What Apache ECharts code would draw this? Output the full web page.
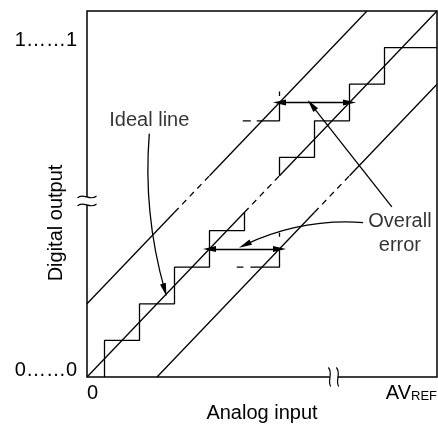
<!DOCTYPE html>
<html>
<head>
<meta charset="utf-8">
<script src="https://cdn.jsdelivr.net/npm/echarts@6/dist/echarts.min.js"></script>
<style>
html, body { margin: 0; padding: 0; background: #fff; }
#chart { width: 438px; height: 424px; }
</style>
</head>
<body>
<div id="chart"></div>
<script>
// both axes in LSB steps, 0..10 across the frame
const xTicks = [0, 10]
const xTickLabels = ['0', '{a|AV}{b|REF}']
const yTicks = [0, 9]
const yTickLabels = ['0……0', '1……1']

// ideal line and the two error bounds (solid / dashed / solid around the break)
const idealLow = [[0, 0], [4.5, 4.5]]
const idealGap = [[4.5, 4.5], [5.5, 5.5]]
const idealHigh = [[5.5, 5.5], [10, 10]]
const upperLow = [[0, 2], [2.5, 4.5]]
const upperGap = [[2.5, 4.5], [3.5, 5.5]]
const upperHigh = [[3.5, 5.5], [8, 10]]
const lowerLow = [[2, 0], [6.5, 4.5]]
const lowerGap = [[6.5, 4.5], [7.5, 5.5]]
const lowerHigh = [[7.5, 5.5], [10, 8]]

// actual conversion staircase
const stairsLow = [[0.5, 0], [0.5, 1], [1.5, 1], [1.5, 2], [2.5, 2], [2.5, 3], [3.5, 3], [3.5, 4], [4.5, 4], [4.5, 4.5]]
const stairsHigh = [[5.5, 5.5], [5.5, 6], [6.5, 6], [6.5, 7], [7.5, 7], [7.5, 8], [8.5, 8], [8.5, 9], [10, 9]]

// steps shifted by the overall error
const shiftLow = [[4.67, 3], [5.5, 3], [5.5, 3.5]]
const shiftLowDash = [[4.28, 3], [4.47, 3]]
const shiftLowTick = [[5.5, 3.83], [5.5, 3.94]]
const shiftHigh = [[4.85, 7], [5.5, 7], [5.5, 7.5]]
const shiftHighDash = [[4.45, 7], [4.68, 7]]
const shiftHighTick = [[5.5, 7.68], [5.5, 7.8]]

// double arrows showing the error
const errorArrows = [
    [[3.5, 3.5], [5.5, 3.5]],
    [[5.5, 7.5], [7.5, 7.5]]
]
// leader lines: [from, to, curveness]
const leaders = [
    [[1.78, 6.65], [2.22, 2.38], -0.09],
    [[7.89, 4.22], [4.51, 3.61], -0.13],
    [[8.71, 4.65], [6.42, 7.43], 0]
]
const notes = [
    { name: 'Ideal line', value: [1.78, 7.0] },
    { name: 'Overall\nerror', value: [8.94, 3.91] }
]
const yBreakAt = [[0, 4.81]]
const xBreakAt = [[7.05, 0]]

const font = '"Liberation Sans", Arial, sans-serif'
const ink = '#000'

function seg(data, dashed) {
    return {
        type: 'line',
        data: data,
        showSymbol: false,
        silent: true,
        lineStyle: { color: ink, width: 1.3, type: dashed ? [6, 5] : 'solid' }
    }
}

function renderYBreak(params, api) {
    const p = api.coord([api.value(0), api.value(1)])
    const cx = p[0], cy = p[1]
    const wave = dy => ({
        type: 'bezierCurve',
        shape: { x1: cx - 9.5, y1: cy + dy + 1, cpx1: cx - 4, cpy1: cy + dy - 5, cpx2: cx + 3, cpy2: cy + dy + 5, x2: cx + 9.5, y2: cy + dy - 1 },
        style: { stroke: ink, lineWidth: 1.2, fill: 'none' }
    })
    return {
        type: 'group',
        children: [
            { type: 'rect', shape: { x: cx - 3, y: cy - 4, width: 6, height: 8 }, style: { fill: '#fff' } },
            wave(-4), wave(4)
        ]
    }
}

function renderXBreak(params, api) {
    const p = api.coord([api.value(0), api.value(1)])
    const cx = p[0], cy = p[1]
    const paren = dx => ({
        type: 'bezierCurve',
        shape: { x1: cx + dx - 1.5, y1: cy - 9.5, cpx1: cx + dx + 4, cpy1: cy - 4, cpx2: cx + dx - 3, cpy2: cy + 4, x2: cx + dx + 1, y2: cy + 9.5 },
        style: { stroke: ink, lineWidth: 1.2, fill: 'none' }
    })
    return {
        type: 'group',
        children: [
            { type: 'rect', shape: { x: cx - 4, y: cy - 3, width: 8, height: 6 }, style: { fill: '#fff' } },
            paren(-4), paren(4)
        ]
    }
}

const chart = echarts.init(document.getElementById('chart'))
chart.setOption({
    animation: false,
    grid: {
        left: 87, right: 1, top: 11, bottom: 47,
        outerBoundsMode: 'none', containLabel: false,
        show: true, borderColor: ink, borderWidth: 1.5
    },
    xAxis: {
        type: 'value', min: 0, max: 10,
        axisLine: { show: false }, axisTick: { show: false }, splitLine: { show: false },
        axisLabel: {
            customValues: xTicks,
            formatter: v => xTickLabels[xTicks.indexOf(v)],
            color: ink, fontSize: 20, lineHeight: 20, fontFamily: font, margin: 6,
            alignMinLabel: 'left', alignMaxLabel: 'right',
            rich: {
                a: { fontSize: 20, lineHeight: 20, verticalAlign: 'bottom', fontFamily: font, color: ink },
                b: { fontSize: 13, lineHeight: 15, verticalAlign: 'bottom', fontFamily: font, color: ink }
            }
        },
        name: 'Analog input', nameLocation: 'middle', nameGap: 26, nameMoveOverlap: false,
        nameTextStyle: { color: ink, fontSize: 20, lineHeight: 20, fontFamily: font }
    },
    yAxis: {
        type: 'value', min: 0, max: 10,
        axisLine: { show: false }, axisTick: { show: false }, splitLine: { show: false },
        axisLabel: {
            customValues: yTicks,
            formatter: v => yTickLabels[yTicks.indexOf(v)],
            color: ink, fontSize: 20, lineHeight: 14, verticalAlign: 'bottom', fontFamily: font, margin: 10
        },
        name: 'Digital output', nameLocation: 'middle', nameGap: 21, nameMoveOverlap: false,
        nameTextStyle: { color: ink, fontSize: 20, lineHeight: 20, fontFamily: font, padding: [0, 58, 0, 0] }
    },
    series: [
        seg(idealLow), seg(idealGap, true), seg(idealHigh),
        seg(upperLow), seg(upperGap, true), seg(upperHigh),
        seg(lowerLow), seg(lowerGap, true), seg(lowerHigh),
        seg(stairsLow), seg(stairsHigh),
        seg(shiftLow), seg(shiftLowDash), seg(shiftLowTick),
        seg(shiftHigh), seg(shiftHighDash), seg(shiftHighTick),
        {
            type: 'lines', coordinateSystem: 'cartesian2d', silent: true,
            symbol: ['triangle', 'triangle'], symbolSize: [[6, 13], [6, 13]],
            lineStyle: { color: ink, width: 1.3, opacity: 1 },
            data: errorArrows.map(c => ({ coords: c }))
        },
        {
            type: 'lines', coordinateSystem: 'cartesian2d', silent: true,
            symbol: ['none', 'triangle'], symbolSize: [[6, 13], [6, 13]],
            lineStyle: { color: ink, width: 1.3, opacity: 1 },
            data: leaders.map(l => ({ coords: [l[0], l[1]], lineStyle: { curveness: l[2] } }))
        },
        {
            type: 'scatter', symbolSize: 0, silent: true,
            data: notes,
            label: {
                show: true, position: 'inside', formatter: p => p.name,
                color: ink, fontSize: 20, lineHeight: 24, fontFamily: font, align: 'center'
            }
        },
        { type: 'custom', data: yBreakAt, renderItem: renderYBreak, clip: false, z: 10, silent: true },
        { type: 'custom', data: xBreakAt, renderItem: renderXBreak, clip: false, z: 10, silent: true }
    ]
})
</script>
</body>
</html>
